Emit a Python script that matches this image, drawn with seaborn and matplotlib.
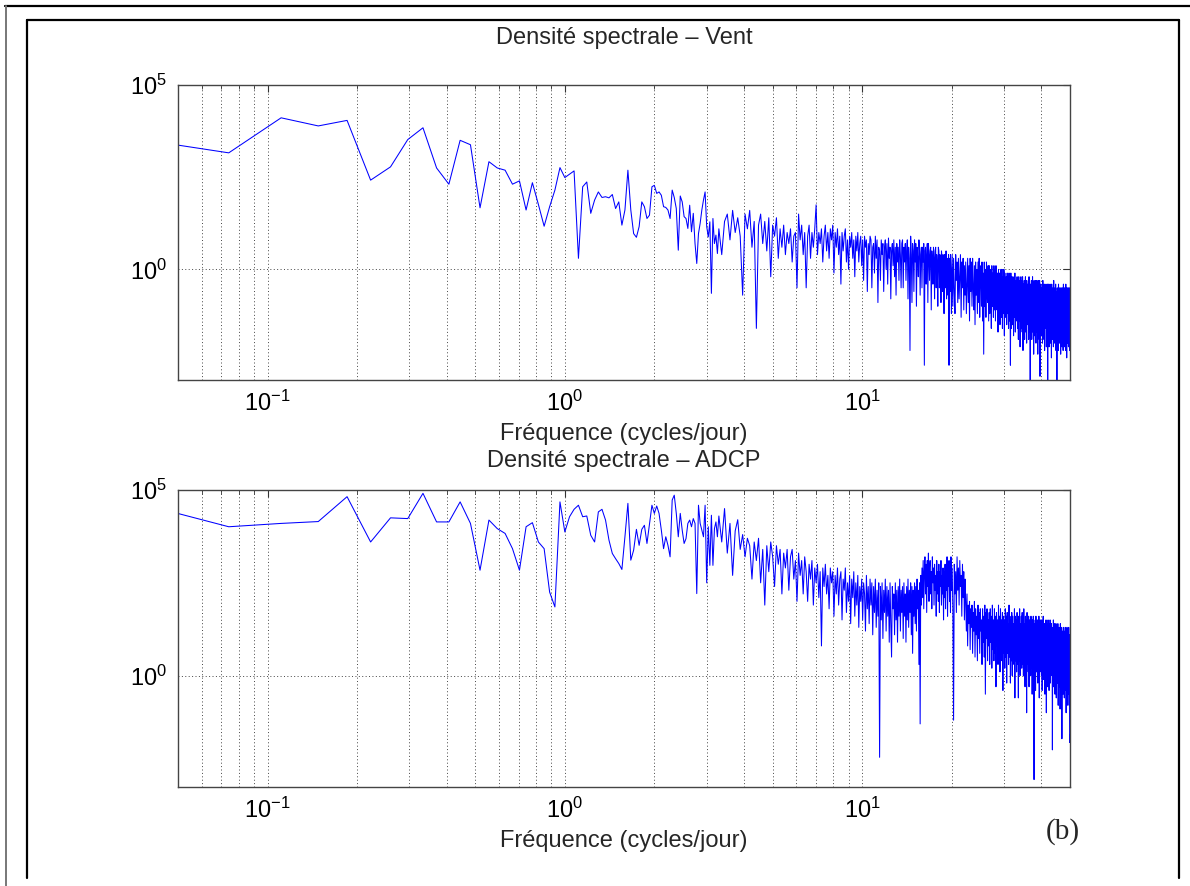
import numpy as np
import pandas as pd
import matplotlib
matplotlib.use("Agg")
import matplotlib.pyplot as plt
from matplotlib.lines import Line2D
from matplotlib.ticker import FixedLocator, LogLocator, LogFormatterMathtext, NullFormatter, NullLocator
import seaborn as sns

# resolution en frequence : 1/27 cycles/jour
df_freq = 1 / 27

# log10 de la densite spectrale, raies k = 1..88
vent_low = [3.53, 3.16, 4.11, 3.89, 4.04, 2.42, 2.78, 3.52, 3.84, 2.75,
            2.31, 3.50, 3.38, 1.67, 2.92, 2.75, 2.69, 2.31, 2.40, 1.61,
            2.35, 1.76, 1.17, 1.70, 2.15, 2.76, 2.49, 2.58, 2.67, 0.30,
            2.24, 2.37, 1.52, 1.88, 2.10, 1.95, 1.97, 1.94, 2.03, 1.65,
            1.83, 1.20, 1.61, 2.69, 1.61, 0.97, 0.87, 1.16, 1.83, 1.70,
            1.38, 1.47, 2.24, 2.28, 2.06, 2.10, 2.01, 1.70, 1.68, 1.61,
            1.38, 2.15, 1.95, 1.65, 0.52, 1.99, 1.83, 1.43, 1.38, 1.11,
            1.74, 1.02, 1.52, 0.70, 0.16, 0.97, 1.25, 1.61, 1.88, 2.10,
            1.16, 0.88, 1.29, -0.65, 1.38, 0.70, 0.93, 0.43]
adcp_low = [4.64, 4.01, 4.10, 4.15, 4.82, 3.60, 4.25, 4.23, 4.91, 4.14,
            4.14, 4.68, 4.10, 2.84, 4.19, 3.96, 3.83, 3.42, 2.84, 4.01,
            4.12, 3.60, 3.42, 2.25, 1.85, 4.68, 3.87, 4.28, 4.48, 4.59,
            4.28, 4.30, 3.78, 3.60, 4.41, 4.48, 4.19, 3.65, 3.29, 3.15,
            3.02, 2.86, 3.74, 4.64, 3.11, 3.38, 3.94, 3.51, 3.94, 4.05,
            3.56, 4.07, 4.59, 4.37, 4.57, 4.37, 3.92, 3.42, 3.74, 3.51,
            3.20, 4.73, 4.86, 4.37, 3.74, 4.37, 3.92, 3.56, 3.69, 4.10,
            4.19, 4.01, 4.23, 4.10, 2.21, 4.59, 4.10, 3.92, 3.74, 4.59,
            2.50, 4.01, 2.97, 4.32, 2.97, 3.96, 4.14, 3.74]

# raies k = 89, 91, ... (une sur deux, jusqu'a ~20 cycles/jour)
vent_mid = [1.1, 0.4, 1.3, 1.5, 0.8, 1.6, 1.0, 1.4, 0.9, -0.7,
            1.5, 1.1, 1.6, 0.6, 1.3, -1.6, 1.2, 1.5, 0.7, 1.3,
            0.5, 1.4, -0.2, 1.2, 0.9, 1.4, 0.3, 1.1, 0.6, 1.2,
            0.4, 1.0, 0.7, 1.1, 0.2, 0.9, 1.0, -0.5, 1.5, 0.8,
            1.2, 0.4, 1.0, -0.5, 0.9, 1.2, 0.3, 1.0, 0.6, 1.1,
            1.75, 0.4, 1.0, 0.7, 1.1, 0.2, 0.9, 1.2, 0.5, 1.0,
            0.3, 1.1, 0.8, 1.2, -0.1, 1.0, 0.6, 1.1, 0.4, 0.9,
            -0.4, 1.0, 0.5, 0.9, 1.1, 0.2, 0.8, 0.0, 0.9, 0.6,
            1.0, 0.3, 0.8, -0.2, 0.9, 0.5, 1.0, 0.2, 0.7, 0.9,
            0.1, 0.8, -0.3, 0.9, 0.6, 0.8, -0.6, 0.7, 0.4, 0.9,
            0.8, -0.5, 0.6, 0.7, -0.1, 0.9, 0.3, 0.8, -0.9, 0.6,
            0.5, -0.3, 0.8, 0.4, 0.7, -0.6, 0.6, 0.8, 0.0, 0.7,
            -0.4, 0.85, 0.3, 0.6, -0.8, 0.5, 0.7, 0.1, 0.8, -0.2,
            0.6, -0.7, 0.7, 0.2, 0.6, -0.3, 0.8, 0.4, -0.5, 0.7,
            0.8, -0.5, 0.6, 0.2, 0.7, -0.3, 0.5, 0.8, -0.8, 0.6,
            0.3, -2.2, 0.9, 0.4, -0.9, 0.7, 0.5, -0.6, 0.8, 0.2,
            0.7, -1.0, 0.6, 0.3, -0.2, 0.8, 0.5, -0.7, 0.4, 0.6,
            -0.5, 0.6, 0.2, 0.7, -2.6, 0.5, 0.6, -0.4, 0.3, 0.7,
            -0.9, 0.7, 0.4, -0.3, 0.5, 0.6, -1.1, 0.5, 0.2, -0.4,
            0.6, 0.3, -0.8, 0.5, 0.6, -0.5, 0.4, 0.1, -1.0, 0.6,
            0.5, -0.5, 0.4, 0.2, -0.9, 0.5, 0.3, -0.6, 0.4, 0.0,
            -1.2, 0.4, 0.3, -0.5, 0.5, -0.8, 0.3, 0.1, -0.7, 0.4,
            -2.6, 0.3, -0.6, 0.4, 0.0, -1.2]
adcp_mid = [4.3, 3.6, 4.5, 3.3, 4.1, 2.7, 3.9, 4.2, 3.4, 3.8,
            3.2, 3.7, 3.5, 2.6, 3.6, 3.1, 3.7, 2.5, 3.4, 1.9,
            3.5, 2.8, 3.6, 3.2, 2.4, 3.5, 3.0, 3.4, 2.2, 3.3,
            2.9, 3.4, 2.3, 3.2, 3.4, 2.6, 3.1, 2.0, 3.3, 2.7,
            3.1, 2.2, 3.2, 2.8, 2.0, 3.0, 2.6, 3.1, 1.9, 2.9,
            2.5, 3.0, 2.1, 2.8, 0.8, 2.9, 2.4, 3.0, 2.2, 2.7,
            1.8, 2.9, 2.5, 2.8, 1.6, 2.7, 2.2, 2.9, 1.9, 2.6,
            2.8, 1.5, 2.6, 2.3, 2.9, 1.7, 2.5, 2.0, 2.7, 1.4,
            2.6, 2.1, 2.8, 1.6, 2.5, 1.9, 2.7, 1.3, 2.4, 2.0,
            2.6, 1.5, 2.5, 2.2, 1.2, 2.7, 1.8, 2.4, 1.4, 2.6,
            1.9, 2.5, 1.1, 2.4, 1.7, 2.6, 1.3, 2.3, 1.6, 2.5,
            -2.2, 2.4, 1.5, 2.5, 1.0, 2.3, 1.7, 2.6, 1.2, 2.4,
            1.6, 2.3, 0.9, 2.5, 1.4, 0.5, 2.4, 1.8, 2.2, 1.1,
            2.5, 1.5, 2.3, 0.9, 2.4, 1.6, 2.6, 1.2, 2.3, 1.7,
            2.4, 1.0, 2.5, 1.6, 2.2, 0.9, 2.4, 1.5, 2.6, 1.3,
            2.3, 1.7, 2.5, 1.1, 2.4, 0.6, 2.3, 1.6, 2.5, 1.4,
            2.4, 1.2, 2.6, 1.8, 2.3, 0.3, 2.5, -1.3, 2.7, 1.9,
            2.9, 2.1, 3.1, 1.8, 2.8, 3.2, 2.2, 3.0, 1.7, 3.1,
            2.4, 3.3, 2.0, 2.9, 3.1, 2.2, 2.8, 1.8, 3.2, 2.5,
            2.9, 1.9, 3.0, 2.3, 2.7, 1.6, 3.1, 2.2, 2.8, 2.0,
            3.0, 1.7, 2.8, 2.4, 3.1, 1.9, 2.7, 2.2, 2.9, 1.5,
            2.8, 2.1, 3.0, 1.8, 2.9, 2.3, 3.2, 1.6, 2.8, 2.4,
            3.1, 2.0, 2.9, 1.7, 3.2, 2.3]

# raies k = 542, 545, ... (une sur trois, jusqu'a 50 cycles/jour)
vent_high = [0.4, -1.0, 0.3, -0.6, -1.2, 0.4, -0.3, 0.2, -0.9, 0.3,
             -0.8, -0.2, 0.4, -1.3, 0.2, -0.5, 0.3, -1.1, 0.1, -0.7,
             0.2, -1.2, -0.4, 0.3, -0.9, 0.1, -1.4, 0.3, -0.6, 0.2,
             -1.0, 0.3, -0.5, -1.1, 0.1, -1.5, 0.2, -0.7, 0.0, -1.2,
             0.2, -0.9, 0.3, -1.3, -0.2, 0.1, -1.0, 0.2, -1.4, -0.1,
             -2.3, 0.2, -1.0, 0.0, -1.3, 0.2, -0.6, -0.9, 0.1, -1.4,
             0.1, -1.2, 0.0, -0.5, -1.6, 0.1, -1.0, -0.1, -1.3, 0.1,
             -1.1, 0.0, -1.4, 0.1, -0.6, -1.1, -0.1, -1.7, 0.0, -1.2,
             -0.1, -1.5, -0.4, 0.0, -1.3, 0.0, -1.6, -0.2, -1.2, 0.0,
             -1.8, -0.1, -1.3, -0.5, -0.2, -1.5, -0.1, -1.2, -0.2, -1.6,
             -0.1, -1.4, -0.3, -2.6, -0.1, -1.6, -0.6, -0.2, -1.5, -0.3,
             -1.8, -0.2, -1.3, -0.1, -1.7, -0.3, -1.4, -0.7, -0.2, -1.6,
             -0.4, -1.9, -0.2, -1.4, -0.3, -2.1, -0.8, -0.2, -1.6, -0.3,
             -1.7, -0.2, -2.2, -0.4, -1.5, -0.3, -1.9, -0.6, -0.2, -1.7,
             -0.3, -2.0, -0.4, -1.5, -0.7, -0.3, -1.9, -0.2, -1.7, -0.5,
             -3.0, -0.4, -1.5, -0.3, -1.9, -0.9, -0.2, -1.7, -0.4, -2.3,
             -0.3, -1.8, -0.5, -1.5, -0.3, -2.0, -0.8, -0.3, -1.7, -0.4,
             -2.3, -0.3, -1.6, -0.5, -1.9, -0.3, -2.9, -0.4, -1.7, -0.9,
             -0.5, -1.8, -0.4, -2.0, -0.3, -1.7, -0.6, -1.9, -0.4, -2.2,
             -0.5, -1.6, -1.0, -0.4, -2.1, -0.6, -1.7, -0.4, -3.0, -0.5,
             -1.8, -0.4, -2.1, -0.6, -1.7, -0.4, -2.0, -0.9, -0.5, -2.4,
             -0.4, -1.9, -0.6, -1.7, -0.5, -2.1, -0.3, -1.8, -0.6, -2.0,
             -0.5, -1.9, -0.4, -2.2, -1.0, -0.6, -3.0, -0.5, -1.7, -0.6,
             -2.2, -0.4, -1.9, -0.6, -2.0, -0.5, -1.8, -0.7, -2.3, -0.5,
             -1.9, -0.6, -2.1, -0.5, -1.6, -0.8, -2.2, -0.4, -1.9, -0.6,
             -2.1, -0.5, -1.9, -0.7, -2.2, -0.4, -1.8, -0.6, -2.4, -0.5,
             -2.0, -0.6, -1.9, -0.5, -2.1, -0.7, -1.6, -0.5, -2.2, -1.6]
adcp_high = [2.9, 1.8, -1.2, 3.0, 2.2, 2.8, 1.7, 3.2, 2.3, 2.9,
             1.9, 3.1, 2.4, 2.7, 1.6, 3.0, 2.1, 2.8, 1.5, 2.6,
             2.0, 1.2, 2.2, 0.8, 1.9, 1.4, 2.0, 0.7, 1.8, 1.3,
             1.9, 0.6, 1.7, 1.2, 2.0, 0.5, 1.8, 1.1, 1.6, 0.4,
             1.9, 1.0, 1.7, 0.6, 1.8, 1.2, 1.5, 0.3, 1.8, 0.9,
             1.6, 0.5, 1.9, -0.5, 1.7, 1.0, 1.8, 0.4, 1.5, 0.8,
             1.7, 0.3, 1.8, 0.9, 1.6, 0.2, 1.9, 0.7, 1.5, 0.4,
             1.8, 0.6, 1.6, -0.3, 1.7, 0.8, 1.5, 0.3, 1.9, 0.5,
             1.6, 0.1, 1.8, 0.7, 1.5, 0.4, 1.7, -0.4, 1.6, 0.6,
             1.5, 0.2, 1.8, 0.5, 1.6, -0.2, 1.7, 0.6, 1.4, 0.3,
             1.9, 0.5, 1.6, -0.2, 1.5, 0.4, 1.7, 0.0, 1.6, 0.5,
             1.4, 0.3, 1.8, -0.6, 1.6, 0.4, 1.5, 0.1, 1.7, 0.3,
             1.5, -0.6, 1.6, 0.4, 1.8, 0.0, 1.4, 0.5, 1.6, 0.2,
             1.7, 0.3, 1.5, 0.0, 1.8, 0.4, 1.4, -0.3, 1.6, 0.2,
             1.5, -1.0, 1.7, 0.3, 1.4, 0.1, 1.6, -0.3, 1.5, 0.4,
             1.3, 0.0, 1.6, 0.2, 1.4, -0.5, 1.5, 0.3, 1.6, -0.2,
             -2.8, 1.4, 0.2, 1.5, -0.4, 1.6, 0.1, 1.3, 0.3, 1.5,
             -0.2, 1.4, 0.3, 1.6, -0.6, 1.3, 0.1, 1.5, 0.4, 1.2,
             0.0, 1.5, -0.4, 1.4, 0.2, 1.6, -0.1, 1.3, 0.3, 1.4,
             -0.5, 1.2, 0.1, 1.5, -1.0, 1.3, 0.2, 1.4, -0.3, 1.5,
             0.1, 1.4, -0.4, 1.3, 0.2, 1.5, -0.2, 1.2, 0.0, 1.4,
             0.3, 1.3, -2.0, 1.2, 0.1, 1.5, -0.3, 1.3, 0.2, 1.4,
             -0.5, 1.2, 0.0, 1.4, -0.6, 1.3, 0.1, 1.2, -0.2, 1.4,
             -0.8, 1.1, 0.2, 1.3, -0.3, 1.2, -0.9, 1.4, 0.0, 1.1,
             -0.4, 1.3, -1.7, 1.2, 0.1, 1.0, -0.5, 1.3, 0.0, 1.2,
             -0.6, 1.1, 0.1, 1.3, -0.4, 1.2, -1.0, 1.1, 0.2, 1.3,
             -0.3, 1.2, -0.8, 1.0, 0.1, 1.3, -0.5, 1.1, -1.8, -1.6]

titles = ["Densité spectrale – Vent", "Densité spectrale – ADCP"]
xlabel = "Fréquence (cycles/jour)"


def spectre(low, mid, high):
    f = np.concatenate([df_freq * np.arange(1, 1 + len(low)),
                        df_freq * (89 + 2 * np.arange(len(mid))),
                        df_freq * (542 + 3 * np.arange(len(high)))])
    return pd.DataFrame({'f': f, 'psd': 10.0 ** np.array(low + mid + high)})


series = [spectre(vent_low, vent_mid, vent_high), spectre(adcp_low, adcp_mid, adcp_high)]

W, H = 1190, 886
sns.set_style("white")
plt.rcParams['font.family'] = ['Liberation Sans', 'DejaVu Sans']
plt.rcParams['mathtext.fontset'] = 'custom'
plt.rcParams['mathtext.rm'] = 'Liberation Sans'
plt.rcParams['mathtext.it'] = 'Liberation Sans:italic'

fig = plt.figure(figsize=(W / 100, H / 100), dpi=100)
fig.patch.set_facecolor('white')

boxes = [(85, 380), (490, 787)]
title_y = [38, 461]
left, right = 178, 1070

for i, (top, bottom) in enumerate(boxes):
    ax = fig.add_axes([left / W, 1 - bottom / H, (right - left) / W, (bottom - top) / H])
    ax.set_xscale('log')
    ax.set_yscale('log')
    sns.lineplot(data=series[i], x='f', y='psd', ax=ax, color='#0000ff', linewidth=0.75,
                 estimator=None, sort=False)
    ax.set_xlim(0.05, 50)
    ax.set_ylim(1e-3, 1e5)

    ax.xaxis.set_major_locator(FixedLocator([0.1, 1, 10]))
    ax.xaxis.set_minor_locator(LogLocator(base=10, subs=range(2, 10)))
    ax.xaxis.set_major_formatter(LogFormatterMathtext())
    ax.xaxis.set_minor_formatter(NullFormatter())
    ax.yaxis.set_major_locator(FixedLocator([1, 1e5]))
    ax.yaxis.set_minor_locator(NullLocator())
    ax.yaxis.set_major_formatter(LogFormatterMathtext())

    ax.grid(True, which='major', axis='both', color='#444444', linestyle=(0, (1, 2.5)), linewidth=0.7)
    ax.grid(True, which='minor', axis='x', color='#444444', linestyle=(0, (1, 2.5)), linewidth=0.7)
    ax.tick_params(which='both', direction='in', top=True, right=True, colors='#333333',
                   labelcolor='black', labelsize=17, pad=8)
    ax.tick_params(which='major', length=5)
    ax.tick_params(which='minor', length=3)
    for s in ax.spines.values():
        s.set_color('#444444')
        s.set_linewidth(1.0)

    ax.set_xlabel(xlabel, fontsize=17, labelpad=5)
    ax.set_ylabel('')
    fig.text((left + right) / 2 / W, 1 - title_y[i] / H, titles[i], ha='center', va='center', fontsize=17)

fig.text(1063 / W, 1 - 832 / H, "(b)", family=['Liberation Serif', 'DejaVu Serif'],
         fontsize=21, ha='center', va='center')


def frame_line(xs, ys, **kw):
    fig.add_artist(Line2D([x / W for x in xs], [1 - y / H for y in ys],
                          transform=fig.transFigure, **kw))


# cadres autour de la figure
frame_line([5, W], [6, 6], color='black', linewidth=1.6)
frame_line([6, 6], [6, H], color='#777777', linewidth=1.4)
frame_line([27, 1179], [20, 20], color='black', linewidth=1.6)
frame_line([27, 27], [20, 878], color='black', linewidth=1.6)
frame_line([1179, 1179], [20, 878], color='black', linewidth=1.6)

fig.savefig('out.png', dpi=100)
